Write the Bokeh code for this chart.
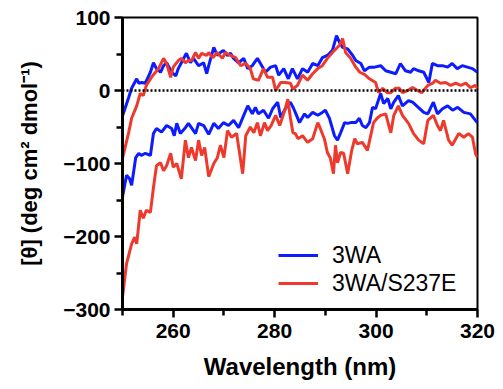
from bokeh.plotting import figure
from bokeh.models import Range1d, FixedTicker, Legend, LegendItem, Span
from bokeh.embed import file_html
from bokeh.resources import INLINE

# ---- data ----
wl_3wa_pos = [250.0, 251.2, 251.8, 252.8, 253.2, 253.8, 254.5, 255.5, 256.1, 256.7, 257.5, 258.1, 258.7,
              259.7, 260.5, 261.0, 261.6, 262.6, 263.4, 264.0, 265.0, 266.0, 266.6, 267.0, 268.0, 268.7,
              269.3, 269.9, 270.7, 271.3, 271.9, 272.9, 273.9, 274.7, 275.6, 276.6, 277.2, 278.2, 279.2,
              280.2, 280.8, 281.8, 282.7, 283.5, 284.5, 285.5, 286.5, 287.5, 288.5, 289.4, 290.4, 291.4,
              292.2, 292.8, 293.4, 294.4, 295.4, 296.0, 297.0, 297.7, 298.7, 299.7, 300.9, 301.9, 302.9,
              303.9, 304.8, 305.8, 306.8, 307.4, 308.4, 309.4, 310.4, 311.1, 312.1, 313.1, 314.1, 315.0,
              316.0, 317.0, 318.0, 319.0, 320.0]
cd_3wa_pos = [-35, -10, 3, 16, 10, 11, 10, 25, 38, 30, 25, 34, 38,
              25, 20, 30, 38, 51, 38, 44, 34, 38, 23, 34, 59, 48,
              52, 55, 48, 51, 44, 38, 44, 30, 34, 44, 37, 25, 32,
              34, 21, 30, 16, 30, 16, 30, 25, 37, 34, 45, 48, 55,
              75, 66, 59, 57, 48, 41, 37, 27, 32, 32, 34, 27, 25,
              23, 37, 27, 25, 30, 27, 25, 11, 37, 34, 34, 32, 37,
              30, 34, 32, 30, 25]

wl_s237e_pos = [250.0, 251.2, 251.8, 252.8, 253.5, 254.1, 254.7, 255.7, 256.5, 257.1, 258.1, 258.7, 259.5,
                260.0, 261.0, 261.6, 262.4, 263.0, 263.6, 264.4, 265.0, 265.6, 266.6, 267.0, 267.8, 268.7,
                269.7, 270.3, 271.3, 272.3, 273.3, 274.3, 275.2, 275.8, 276.8, 277.8, 278.6, 279.6, 280.2,
                281.2, 282.1, 283.1, 283.6, 284.5, 285.5, 286.5, 287.5, 288.5, 289.4, 290.4, 291.4, 292.8,
                293.4, 294.0, 295.0, 296.0, 296.8, 297.7, 298.7, 299.9, 300.5, 301.3, 302.2, 302.9, 303.8,
                304.6, 305.2, 306.2, 307.2, 308.2, 309.0, 310.2, 311.2, 311.7, 312.7, 313.7, 314.7, 315.7,
                316.7, 317.7, 318.6, 319.6, 320.0]
cd_s237e_pos = [-93, -58, -38, -21, -4, -7, 7, 18, 25, 30, 44, 37, 18,
                32, 41, 44, 38, 41, 41, 52, 44, 51, 48, 52, 45, 52,
                44, 52, 48, 45, 34, 37, 30, 16, 14, 30, 18, 18, 0,
                11, 11, 10, 2, 7, 21, 14, 23, 30, 34, 44, 52, 62,
                71, 52, 44, 32, 25, 22, 16, 11, -3, 3, -3, -3, 3,
                3, -3, 0, 4, 0, -3, 7, 10, 14, 10, 11, 7, 10,
                7, 10, 4, 7, 3]

wl_3wa_neg = [250.0, 250.8, 251.4, 251.8, 252.6, 253.2, 253.7, 254.5, 255.5, 256.1, 256.7, 257.7, 258.7,
              259.7, 260.2, 260.7, 261.4, 262.4, 263.0, 264.0, 264.4, 265.0, 266.0, 267.0, 268.0, 268.9,
              269.9, 270.9, 271.9, 272.9, 273.9, 274.7, 275.6, 276.2, 276.8, 277.8, 278.8, 279.6, 280.6,
              281.2, 282.1, 283.1, 283.7, 284.2, 284.9, 285.9, 286.5, 287.5, 288.5, 289.4, 290.0, 290.8,
              291.8, 292.4, 293.0, 293.8, 294.4, 295.0, 296.0, 296.7, 297.3, 298.0, 298.7, 299.3, 299.9,
              300.9, 301.5, 302.3, 302.9, 303.5, 304.4, 305.2, 306.4, 307.2, 308.0, 309.4, 310.2, 311.3,
              312.1, 313.1, 314.1, 315.1, 316.1, 317.3, 318.6, 319.6, 320.0]
cd_3wa_neg = [-146, -116, -121, -130, -92, -86, -89, -86, -89, -59, -52, -57, -48,
              -52, -62, -45, -59, -51, -45, -55, -59, -45, -48, -60, -45, -52,
              -44, -48, -41, -51, -34, -21, -32, -23, -32, -27, -38, -25, -16,
              -37, -25, -16, -24, -32, -44, -32, -37, -30, -34, -30, -27, -38,
              -62, -68, -58, -44, -45, -44, -44, -38, -48, -51, -44, -23, -25,
              -4, -18, -11, -25, -16, -7, -21, -14, -16, -21, -30, -32, -16,
              -32, -25, -21, -27, -23, -30, -32, -41, -44]

wl_s237e_neg = [250.0, 250.8, 251.8, 252.4, 252.8, 253.5, 254.1, 254.7, 255.5, 256.1, 256.7, 257.5, 258.1,
                258.7, 259.5, 260.0, 260.7, 261.6, 262.4, 263.0, 263.6, 264.4, 265.0, 265.6, 266.2, 267.0,
                268.0, 268.7, 269.3, 270.0, 270.7, 271.5, 272.5, 273.7, 274.3, 275.2, 275.9, 276.6, 277.2,
                278.0, 278.6, 279.3, 280.2, 281.0, 282.1, 282.6, 283.1, 283.6, 284.1, 284.6, 285.5, 286.5,
                287.5, 288.5, 289.0, 289.8, 290.4, 291.0, 291.6, 292.0, 292.4, 293.0, 293.6, 294.4, 295.2,
                295.8, 296.3, 297.3, 298.3, 299.5, 300.2, 300.9, 301.9, 302.9, 303.5, 304.4, 305.2, 306.4,
                307.4, 308.4, 309.4, 310.2, 311.3, 312.1, 312.7, 313.3, 314.3, 315.0, 316.3, 317.3, 318.2,
                319.0, 319.6, 320.0]
cd_s237e_neg = [-283, -237, -210, -201, -210, -164, -175, -164, -167, -133, -103, -99, -110,
                -103, -86, -105, -100, -121, -68, -92, -78, -96, -68, -89, -78, -118,
                -100, -92, -75, -92, -55, -64, -59, -114, -62, -50, -58, -44, -62,
                -44, -55, -48, -34, -48, -25, -12, -37, -58, -59, -66, -62, -71,
                -66, -44, -52, -66, -85, -93, -114, -75, -99, -85, -86, -114, -82,
                -66, -73, -71, -82, -44, -38, -34, -32, -58, -34, -21, -34, -45,
                -59, -68, -73, -41, -34, -48, -55, -41, -68, -75, -59, -64, -59,
                -64, -86, -92]

legend_labels = ["3WA", "3WA/S237E"]
x_major = [260, 280, 300, 320]
x_minor = [250, 270, 290, 310]
y_major = [100, 0, -100, -200, -300]
y_minor = [50, -50, -150, -250]

BLUE = "#0d1bff"
RED = "#ee3a2c"
FONT = "Liberation Sans"

p = figure(width=503, height=389, output_backend="svg", toolbar_location=None,
           x_range=Range1d(250, 320), y_range=Range1d(-300, 100),
           min_border_left=122, min_border_right=26, min_border_top=17, min_border_bottom=80)
p.grid.visible = False
p.outline_line_color = "black"
p.outline_line_width = 2
p.background_fill_color = "white"
p.border_fill_color = "white"

zero = Span(location=0, dimension="width", line_color="black", line_dash="2 2", line_width=2.5)
p.add_layout(zero)

b1 = p.line(wl_3wa_pos, cd_3wa_pos, color=BLUE, line_width=3)
b2 = p.line(wl_3wa_neg, cd_3wa_neg, color=BLUE, line_width=3)
r1 = p.line(wl_s237e_pos, cd_s237e_pos, color=RED, line_width=3)
r2 = p.line(wl_s237e_neg, cd_s237e_neg, color=RED, line_width=3)

for ax in (p.xaxis[0], p.yaxis[0]):
    ax.axis_line_width = 3
    ax.major_tick_line_width = 2.5
    ax.minor_tick_line_width = 2.5
    ax.major_tick_in = 0
    ax.minor_tick_in = 0
    ax.major_tick_out = 8
    ax.minor_tick_out = 6
    ax.major_label_text_font = FONT
    ax.major_label_text_font_style = "bold"
    ax.major_label_text_font_size = "21px"
    ax.major_label_text_color = "black"
    ax.axis_label_text_font = FONT
    ax.axis_label_text_font_style = "bold"
    ax.axis_label_text_color = "black"

p.xaxis.ticker = FixedTicker(ticks=x_major, minor_ticks=x_minor)
p.yaxis.ticker = FixedTicker(ticks=y_major, minor_ticks=y_minor)
p.xaxis.major_label_standoff = 6
p.yaxis.major_label_standoff = 4
p.xaxis.axis_label = "Wavelength (nm)"
p.xaxis.axis_label_text_font_size = "24px"
p.xaxis.axis_label_standoff = 12
p.yaxis.axis_label = "[θ] (deg cm² dmol⁻¹)"
p.yaxis.axis_label_text_font_size = "22px"
p.yaxis.axis_label_standoff = 18

legend = Legend(items=[LegendItem(label=legend_labels[0], renderers=[b1]),
                       LegendItem(label=legend_labels[1], renderers=[r1])],
                location=(156, 12), padding=0, margin=0, spacing=0,
                glyph_width=40, glyph_height=28, label_height=28, label_standoff=14,
                label_text_font=FONT, label_text_font_size="23px", label_text_color="black",
                border_line_color=None, background_fill_alpha=0)
p.add_layout(legend)

open("out.html", "w").write(file_html(p, INLINE))
